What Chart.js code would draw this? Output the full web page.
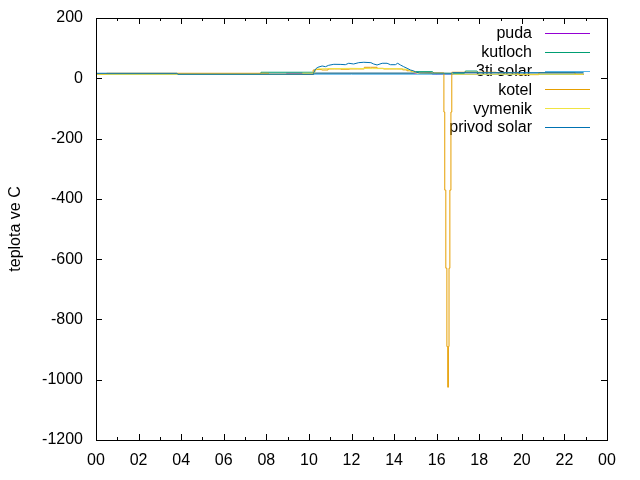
<!DOCTYPE html>
<html>
<head>
<meta charset="utf-8">
<script src="https://cdn.jsdelivr.net/npm/chart.js@4"></script>
<style>
  html, body { margin: 0; padding: 0; background: #fff; }
</style>
</head>
<body>
<canvas id="chart" width="640" height="480"></canvas>
<script>
// hours of day, temperature in C
const pudaT = [0, 8.9, 8.95, 9.7, 9.75, 10.2, 10.25, 15.0, 15.1, 15.7, 15.8, 22.9];
const pudaV = [13.3, 13.3, 16.6, 16.6, 13.3, 13.3, 16.6, 16.6, 19, 19, 13.3, 13.3];

const kutlochT = [0, 7.7, 7.75, 10.2, 10.25, 14.9, 15.0, 15.8, 15.9, 17.3, 17.35, 17.9, 18, 22.9];
const kutlochV = [13.3, 13.3, 20, 20, 17, 17, 22, 22, 16, 16, 24, 24, 13.3, 13.3];

const solar3T = [0, 4, 8, 12, 16, 20, 22.9];
const solar3V = [13.3, 13.3, 13.3, 13.3, 13.3, 13.3, 13.3];

const kotelT = [0, 0.5, 0.6, 8.1, 8.2, 10.2, 10.3, 10.6, 10.9, 11.2, 11.5, 11.9, 12.3, 12.6,
  12.9, 13.2, 13.5, 13.8, 14.1, 14.4, 14.6, 14.8, 15.0, 15.2, 16.34, 16.38, 16.43, 16.48,
  16.52, 16.55, 16.58, 16.62, 16.67, 16.71, 16.75, 18.8, 19.8, 19.85, 20.8, 20.85, 22.5, 22.9];
const kotelV = [13.3, 13.3, 16.6, 16.6, 13.3, 13.3, 27.5, 29, 27.5, 31, 31, 30, 31, 31,
  36.5, 36.5, 33, 31, 31, 31, 28, 25, 22, 18, 18, -112, -371, -630,
  -890, -1025, -890, -630, -371, -112, 20, 20, 18.6, 12, 12, 18.6, 18.6, 13.3];

const vymenikT = [0, 9.65, 9.7, 10.25, 10.35, 11, 12, 13, 14, 14.6, 14.9, 15.1, 15.8, 16.7, 16.8, 22.9];
const vymenikV = [13.3, 13.3, 16.6, 16.6, 31, 32, 33, 32, 32, 30, 22, 18.6, 16.6, 16.6, 13.3, 13.3];

const privodT = [0, 3.8, 3.85, 10.2, 10.23, 10.31, 10.42, 10.62, 10.78, 10.93, 11.17, 11.5,
  11.71, 11.87, 12.10, 12.34, 12.58, 12.91, 13.04, 13.20, 13.44, 13.67, 13.83, 14.06, 14.17,
  14.30, 14.45, 14.61, 14.77, 14.93, 15.01, 15.2, 16.7, 16.75, 22.9];
const privodV = [16.6, 16.6, 13.3, 13.3, 18.6, 30.9, 36.5, 40.8, 38.5, 43.1, 46.4, 46,
  45.1, 49.8, 47.4, 51.8, 53.1, 51.8, 47.4, 44.1, 49.8, 49.8, 45.1, 45.1, 49.8,
  44.1, 38.5, 33.2, 27.5, 24.2, 20.9, 17.6, 16.6, 18.6, 18.6];

const seriesNames = ['puda', 'kutloch', '3ti solar', 'kotel', 'vymenik', 'privod solar'];
const seriesColors = ['#9400d3', '#009e73', '#56b4e9', '#e69f00', '#f0e442', '#0072b2'];
const seriesT = [pudaT, kutlochT, solar3T, kotelT, vymenikT, privodT];
const seriesV = [pudaV, kutlochV, solar3V, kotelV, vymenikV, privodV];

const xTickLabels = ['00', '02', '04', '06', '08', '10', '12', '14', '16', '18', '20', '22', '00'];
const yTicks = [200, 0, -200, -400, -600, -800, -1000, -1200];

const FONT = "'Liberation Sans', Arial, sans-serif";

const datasets = seriesNames.map((name, i) => ({
  label: name,
  data: seriesT[i].map((t, k) => ({ x: t, y: seriesV[i][k] })),
  borderColor: seriesColors[i],
  borderWidth: 1,
  pointRadius: 0,
  tension: 0,
  fill: false,
  // kotel drops in steps, like the jagged lines in the original
  stepped: name === 'kotel' ? 'after' : false,
  // later series are drawn on top, like gnuplot
  order: seriesNames.length - i
}));

// gnuplot style key: text right aligned, sample line to the right
const keyPlugin = {
  id: 'key',
  beforeDatasetsDraw(chart) {
    const ctx = chart.ctx;
    ctx.save();
    ctx.font = '16px ' + FONT;
    ctx.textAlign = 'right';
    ctx.textBaseline = 'middle';
    chart.data.datasets.forEach((ds, i) => {
      const y = 33 + i * 18.8;
      ctx.fillStyle = '#000';
      ctx.fillText(ds.label, 532, y + 1);
      ctx.strokeStyle = ds.borderColor;
      ctx.lineWidth = 1;
      ctx.beginPath();
      ctx.moveTo(545, Math.round(y) + 0.5);
      ctx.lineTo(590, Math.round(y) + 0.5);
      ctx.stroke();
    });
    ctx.restore();
  }
};

// border and inward ticks on all four sides
const framePlugin = {
  id: 'frame',
  afterDraw(chart) {
    const { ctx, chartArea: a, scales: { x, y } } = chart;
    ctx.save();
    ctx.strokeStyle = '#000';
    ctx.lineWidth = 1;
    ctx.beginPath();
    for (let h = 0; h <= 24; h++) {
      const px = Math.round(x.getPixelForValue(h)) + 0.5;
      const len = h % 2 ? 3 : 6;
      ctx.moveTo(px, a.bottom); ctx.lineTo(px, a.bottom - len);
      ctx.moveTo(px, a.top); ctx.lineTo(px, a.top + len);
    }
    yTicks.forEach(v => {
      const py = Math.round(y.getPixelForValue(v)) + 0.5;
      ctx.moveTo(a.left, py); ctx.lineTo(a.left + 6, py);
      ctx.moveTo(a.right, py); ctx.lineTo(a.right - 6, py);
    });
    ctx.stroke();
    ctx.strokeRect(a.left + 0.5, a.top + 0.5, a.right - a.left, a.bottom - a.top);
    ctx.restore();
  }
};

new Chart(document.getElementById('chart'), {
  type: 'line',
  data: { datasets },
  options: {
    responsive: false,
    animation: false,
    layout: { padding: { left: 0, right: 33, top: 18, bottom: 0 } },
    plugins: { legend: { display: false }, tooltip: { enabled: false } },
    scales: {
      x: {
        type: 'linear',
        min: 0,
        max: 24,
        grid: { display: false },
        border: { display: false },
        ticks: {
          stepSize: 2,
          autoSkip: false,
          maxRotation: 0,
          padding: 3,
          color: '#000',
          font: { family: FONT, size: 16 },
          callback: (v) => xTickLabels[v / 2]
        },
        afterFit: (s) => { s.height = 40; }
      },
      y: {
        min: -1200,
        max: 200,
        // invisible tick marks only push the labels away from the frame
        grid: { drawOnChartArea: false, drawTicks: true, tickLength: 10, color: 'rgba(0,0,0,0)' },
        border: { display: false },
        ticks: {
          stepSize: 200,
          padding: 3,
          color: '#000',
          font: { family: FONT, size: 16 },
          callback: (v) => String(v)
        },
        title: {
          display: true,
          text: 'teplota ve C',
          color: '#000',
          font: { family: FONT, size: 16 },
          padding: { top: 6, bottom: 0 }
        },
        afterFit: (s) => { s.width = 96; }
      }
    }
  },
  plugins: [keyPlugin, framePlugin]
});
</script>
</body>
</html>
